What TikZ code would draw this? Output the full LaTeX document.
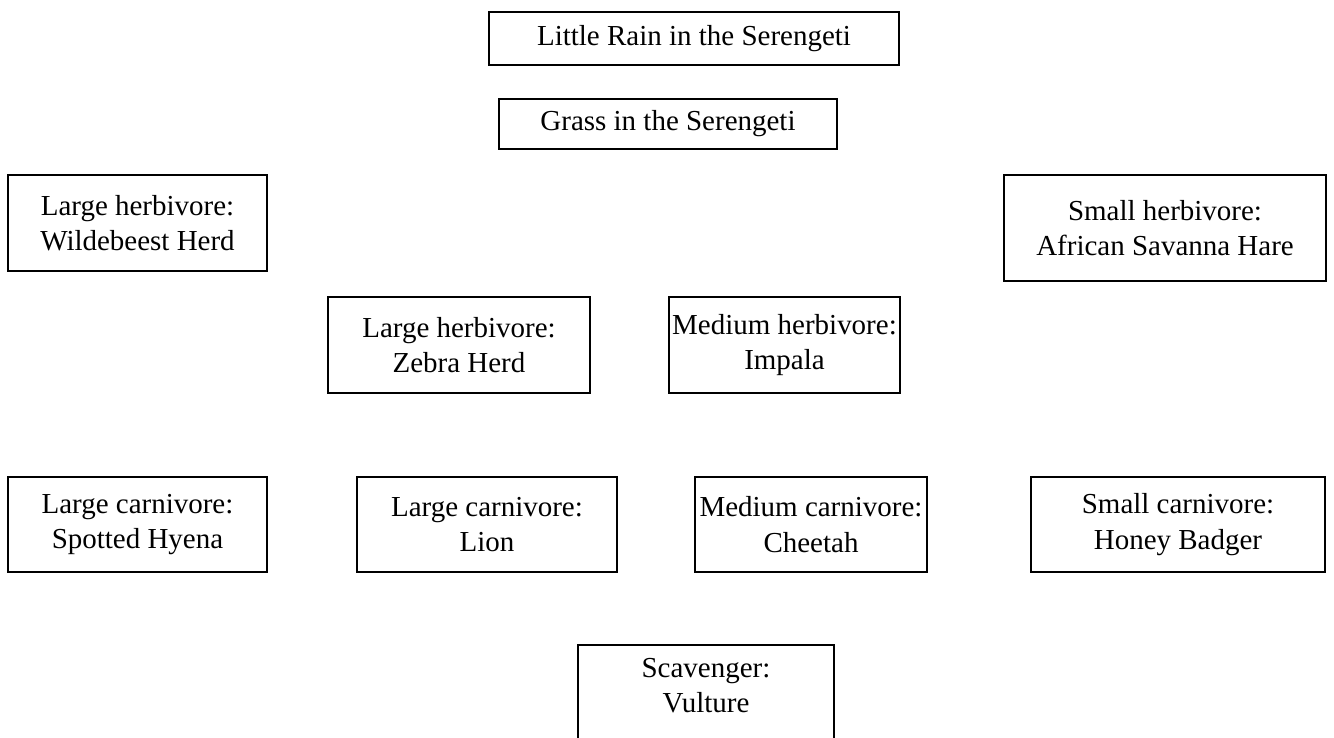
\documentclass[tikz,border=0pt]{standalone}
\usepackage{fontspec}
\setmainfont{Liberation Serif}
\newcommand\pxu{0.4313pt}
\tikzset{
  box/.style={draw=black, line width=0.75pt, align=center, inner sep=0pt,
    font=\fontsize{12.5}{15.2}\selectfont, text=black},
}
\begin{document}
\begin{tikzpicture}[x=0.4313pt, y=-0.4313pt]
\useasboundingbox[fill=white] (0,0) rectangle (1334,738);
\node[box, minimum width=410*\pxu, minimum height=53*\pxu] (rain) at (694,38.5) {Little Rain in the Serengeti};
\node[box, minimum width=338*\pxu, minimum height=50*\pxu] (grass) at (668,124) {Grass in the Serengeti};
\node[box, minimum width=259*\pxu, minimum height=96*\pxu] (wild) at (137.5,223) {Large herbivore:\\Wildebeest Herd};
\node[box, minimum width=322*\pxu, minimum height=106*\pxu] (hare) at (1165,228) {Small herbivore:\\African Savanna Hare};
\node[box, minimum width=262*\pxu, minimum height=96*\pxu] (zebra) at (459,345) {Large herbivore:\\Zebra Herd};
\node[box, minimum width=231*\pxu, minimum height=96*\pxu] (impala) at (784.5,345) {Medium herbivore:\\Impala};
\node[box, minimum width=259*\pxu, minimum height=95*\pxu] (hyena) at (137.5,524.5) {Large carnivore:\\Spotted Hyena};
\node[box, minimum width=260*\pxu, minimum height=95*\pxu] (lion) at (487,524.5) {Large carnivore:\\Lion};
\node[box, minimum width=232*\pxu, minimum height=95*\pxu] (cheetah) at (811,524.5) {Medium carnivore:\\Cheetah};
\node[box, minimum width=294*\pxu, minimum height=95*\pxu] (badger) at (1178,524.5) {Small carnivore:\\Honey Badger};
\node[box, minimum width=256*\pxu, minimum height=116*\pxu] (vulture) at (706,703) {Scavenger:\\Vulture\\\mbox{}};
\end{tikzpicture}
\end{document}
